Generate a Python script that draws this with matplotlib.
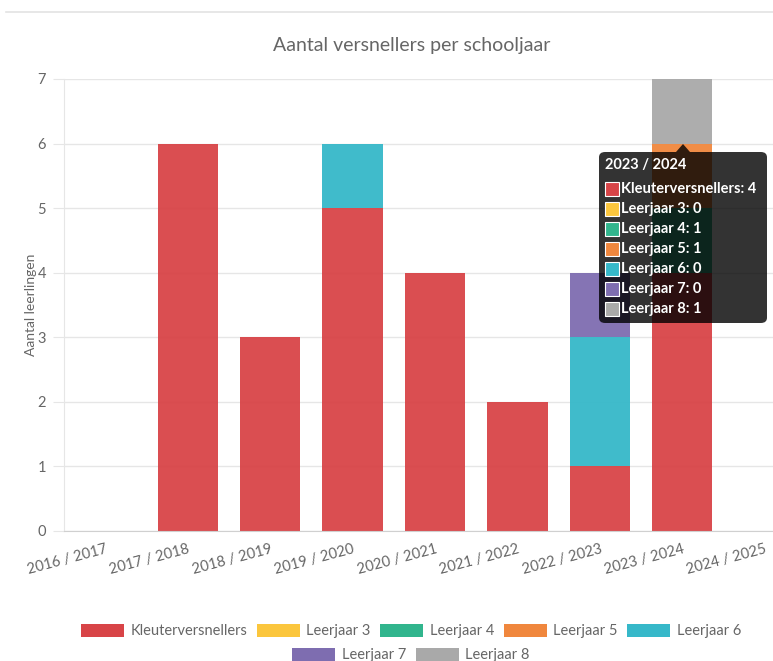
import numpy as np
import matplotlib
matplotlib.use('Agg')
import matplotlib.pyplot as plt
from matplotlib.patches import FancyBboxPatch, Polygon, Rectangle
from matplotlib.lines import Line2D

plt.rcParams['font.family'] = ['Lato', 'DejaVu Sans']

years = ['2016 / 2017', '2017 / 2018', '2018 / 2019', '2019 / 2020', '2020 / 2021',
         '2021 / 2022', '2022 / 2023', '2023 / 2024', '2024 / 2025']
series = ['Kleuterversnellers', 'Leerjaar 3', 'Leerjaar 4', 'Leerjaar 5',
          'Leerjaar 6', 'Leerjaar 7', 'Leerjaar 8']
kleuter = [0, 6, 3, 5, 4, 2, 1, 4, 0]
leerjaar3 = [0, 0, 0, 0, 0, 0, 0, 0, 0]
leerjaar4 = [0, 0, 0, 0, 0, 0, 0, 1, 0]
leerjaar5 = [0, 0, 0, 0, 0, 0, 0, 1, 0]
leerjaar6 = [0, 0, 0, 1, 0, 0, 2, 0, 0]
leerjaar7 = [0, 0, 0, 0, 0, 0, 1, 0, 0]
leerjaar8 = [0, 0, 0, 0, 0, 0, 0, 1, 0]
colors = ['#d84447', '#fbc63d', '#31b58d', '#f0873d', '#36b8c9', '#7e6db0', '#a9a9a9']
hover_idx = 7

values = [kleuter, leerjaar3, leerjaar4, leerjaar5, leerjaar6, leerjaar7, leerjaar8]

W, H = 773, 661
fig = plt.figure(figsize=(W / 100, H / 100), dpi=100)

def px(x, y):
    return (x / W, 1 - y / H)

ax = fig.add_axes([64 / W, 130 / H, 742 / W, 452 / H])
x = np.arange(len(years))
bottom = np.zeros(len(years))
for name, vals, c in zip(series, values, colors):
    ax.bar(x, vals, bottom=bottom, width=0.73, color=c, alpha=0.95, label=name, zorder=2)
    bottom += np.array(vals)

ax.set_xlim(-0.5, len(years) - 0.5)
ax.set_ylim(0, 7)
ax.set_yticks(range(0, 8))
ax.grid(axis='y', color='#e6e6e6', lw=1, zorder=0)
for s in ['top', 'right']:
    ax.spines[s].set_visible(False)
ax.spines['left'].set_color('#e6e6e6')
ax.spines['bottom'].set_color('#d0d0d0')
ax.tick_params(axis='y', colors='#e6e6e6', labelcolor='#666666', labelsize=10.5, length=8, pad=5)
ax.tick_params(axis='x', length=0, labelcolor='#666666', labelsize=10.5, pad=8)
ax.set_xticks(x)
ax.set_xticklabels(years, rotation=15, ha='right', rotation_mode='anchor')
ax.set_ylabel('Aantal leerlingen', color='#666666', fontsize=10)
ax.yaxis.set_label_coords(-0.037, 0.5)

fig.text(412 / W, 1 - 45 / H, 'Aantal versnellers per schooljaar', ha='center', va='center',
         fontsize=14, color='#666666')

# card border
fig.add_artist(Line2D([6 / W, 1], [1 - 12 / H, 1 - 12 / H], color='#e3e3e3', lw=1.2,
                      transform=fig.transFigure))

# tooltip
tip = FancyBboxPatch(px(599, 323), 168 / W, 171 / H, boxstyle='round,pad=0,rounding_size=0.008',
                     transform=fig.transFigure, fc=(0, 0, 0, 0.8), ec='none', zorder=10)
fig.add_artist(tip)
fig.add_artist(Polygon([px(676, 152), px(683, 144), px(690, 152)], closed=True,
                       transform=fig.transFigure, fc=(0, 0, 0, 0.8), ec='none', zorder=10))
fig.text(*px(605, 165), years[hover_idx], color='white', fontsize=10.5, fontweight='bold',
         va='center', ha='left', zorder=11)
for i, (name, vals, c) in enumerate(zip(series, values, colors)):
    yy = 189 + i * 20
    fig.add_artist(Rectangle(px(605, yy + 7), 14 / W, 14 / H, transform=fig.transFigure,
                             fc=c, ec='white', lw=0.8, zorder=11))
    fig.text(*px(621, yy), '%s: %d' % (name, vals[hover_idx]), color='white', fontsize=10.5,
             fontweight='bold', va='center', ha='left', zorder=11)

# legend
handles = [Rectangle((0, 0), 1, 1, fc=c, ec='none') for c in colors]
leg_kw = dict(frameon=False, handlelength=2.95, handleheight=1.0, handletextpad=0.45,
              columnspacing=0.65, fontsize=10.5, labelcolor='#666666', borderaxespad=0)
fig.legend(handles[:5], series[:5], loc='center', bbox_to_anchor=px(411, 631), ncol=5, **leg_kw)
fig.legend(handles[5:], series[5:], loc='center', bbox_to_anchor=px(411, 655), ncol=2, **leg_kw)

fig.savefig('out.png', dpi=100)
